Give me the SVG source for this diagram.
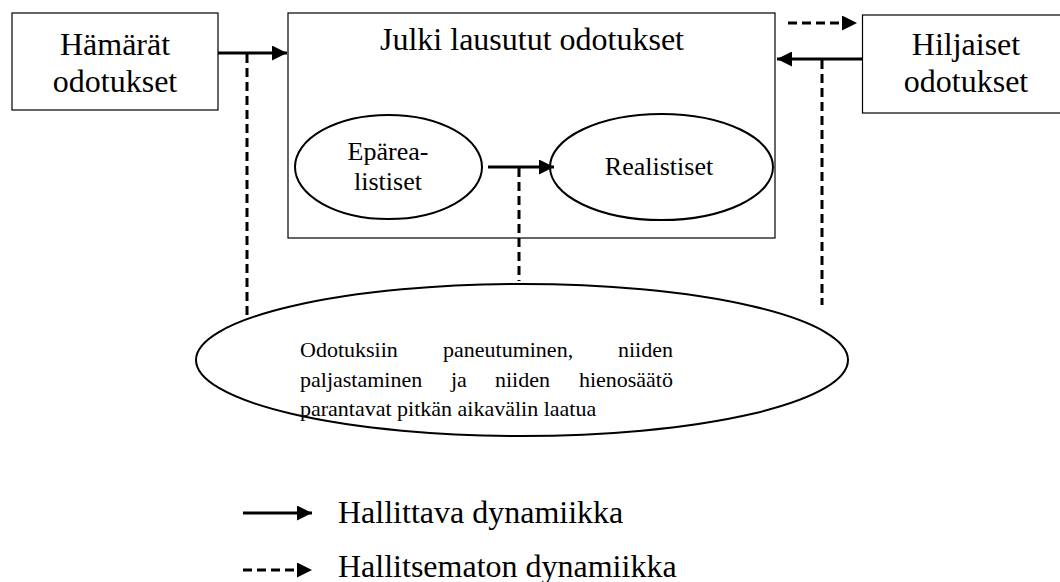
<svg xmlns="http://www.w3.org/2000/svg" width="1060" height="582" viewBox="0 0 1060 582">
  <defs>
    <marker id="head" viewBox="0 0 10 10" refX="10" refY="5" markerWidth="5" markerHeight="5" markerUnits="strokeWidth" orient="auto">
      <path d="M0,0 L10,5 L0,10 Z" fill="#000"/>
    </marker>
    <style>
      .box { fill: #fff; stroke: #000; stroke-width: 1.2; }
      .oval { fill: #fff; stroke: #000; stroke-width: 2; }
      text { font-family: "Liberation Serif", Tinos, "Times New Roman", Times, "DejaVu Serif", serif; fill: #000; }
      .big { font-size: 32px; }
      .mid { font-size: 26px; }
      .small { font-size: 22px; }
      .solid { stroke: #000; stroke-width: 3; fill: none; }
      .dash { stroke: #000; stroke-width: 3; fill: none; stroke-dasharray: 9 5; }
      .arrow { marker-end: url(#head); }
    </style>
  </defs>
  <rect width="1060" height="582" fill="#fff"/>

  <!-- vague expectations -->
  <g id="hamarat">
    <rect class="box" x="12" y="13" width="206" height="97"/>
    <text class="big" x="115" y="55" text-anchor="middle" font-family="Liberation Serif, serif">Hämärät</text>
    <text class="big" x="115" y="92" text-anchor="middle" font-family="Liberation Serif, serif">odotukset</text>
  </g>

  <!-- explicitly stated expectations -->
  <g id="julki">
    <rect class="box" x="288" y="13" width="487" height="225"/>
    <text class="big" x="532" y="50" text-anchor="middle">Julki lausutut odotukset</text>
  </g>

  <g id="eparealistiset">
    <ellipse class="oval" cx="388.5" cy="167" rx="93.5" ry="52"/>
    <text class="mid" x="388" y="160" text-anchor="middle">Epärea-</text>
    <text class="mid" x="388" y="190" text-anchor="middle">listiset</text>
  </g>

  <g id="realistiset">
    <ellipse class="oval" cx="661.5" cy="167" rx="111.5" ry="53"/>
    <text class="mid" x="659" y="175" text-anchor="middle">Realistiset</text>
  </g>

  <!-- tacit expectations (box runs past the right edge) -->
  <g id="hiljaiset">
    <rect class="box" x="862.5" y="15" width="210" height="98"/>
    <text class="big" x="966" y="55" text-anchor="middle">Hiljaiset</text>
    <text class="big" x="966" y="92" text-anchor="middle">odotukset</text>
  </g>

  <!-- outcome ellipse with justified text -->
  <g id="laatu">
    <ellipse class="oval" cx="522" cy="360" rx="326" ry="76"/>
    <g class="small">
      <text x="300" y="357">Odotuksiin</text>
      <text x="443" y="357">paneutuminen,</text>
      <text x="673" y="357" text-anchor="end">niiden</text>
      <text x="300" y="387">paljastaminen</text>
      <text x="451" y="387">ja</text>
      <text x="495" y="387">niiden</text>
      <text x="673" y="387" text-anchor="end">hienosäätö</text>
      <text x="300" y="416">parantavat pitkän aikavälin laatua</text>
    </g>
  </g>

  <!-- connectors -->
  <g id="connectors">
    <line class="solid arrow" x1="218" y1="53" x2="287" y2="53"/>
    <line class="dash" x1="247" y1="54" x2="247" y2="318"/>

    <line class="dash arrow" x1="788" y1="23" x2="857" y2="23"/>

    <line class="solid arrow" x1="862" y1="59" x2="777" y2="59"/>
    <line class="dash" x1="822" y1="60" x2="822" y2="305"/>

    <line class="solid arrow" x1="488" y1="167" x2="554" y2="167"/>
    <line class="dash" x1="519" y1="168" x2="519" y2="281"/>
  </g>

  <!-- legend -->
  <g id="legend">
    <line class="solid arrow" x1="243" y1="513" x2="312" y2="513"/>
    <text class="big" x="338" y="523">Hallittava dynamiikka</text>
    <line class="dash arrow" x1="243" y1="570" x2="312" y2="570"/>
    <text class="big" x="338" y="577">Hallitsematon dynamiikka</text>
  </g>
</svg>
